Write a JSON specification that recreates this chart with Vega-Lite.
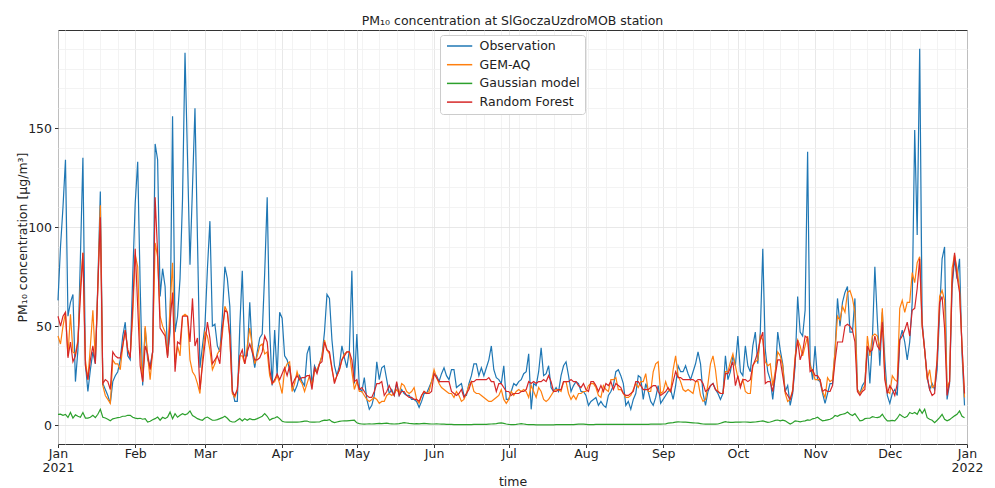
{
"$schema": "https://vega.github.io/schema/vega-lite/v6.json",
"width": 909, "height": 414,
"autosize": {"type": "none"},
"padding": {"left": 58, "top": 30, "right": 28, "bottom": 44},
"background": "white",
"config": {"font": "DejaVu Sans", "view": {"stroke": "#333333", "strokeWidth": 1}},
"title": {"text": "PM₁₀ concentration at SlGoczaUzdroMOB station", "fontSize": 12.5, "fontWeight": "normal", "color": "#222222", "offset": 3},
"data": {"values": [
{"t":"2021-01-01","o":63,"g":45,"n":5.5,"r":55},
{"t":"2021-01-02","o":90,"g":41,"n":5.6,"r":50},
{"t":"2021-01-03","o":110,"g":50,"n":5,"r":55},
{"t":"2021-01-04","o":134,"g":57,"n":5.4,"r":57},
{"t":"2021-01-05","o":55,"g":35,"n":3.9,"r":34},
{"t":"2021-01-06","o":62,"g":56,"n":6.4,"r":42},
{"t":"2021-01-07","o":66,"g":37,"n":3.6,"r":32},
{"t":"2021-01-08","o":22,"g":36,"n":5.2,"r":35},
{"t":"2021-01-09","o":38,"g":43,"n":4.5,"r":42},
{"t":"2021-01-10","o":85,"g":70,"n":4,"r":65},
{"t":"2021-01-11","o":135,"g":87,"n":6.4,"r":87},
{"t":"2021-01-12","o":31,"g":33,"n":3.6,"r":30},
{"t":"2021-01-13","o":17,"g":23,"n":3.6,"r":23},
{"t":"2021-01-14","o":28,"g":40,"n":4,"r":33},
{"t":"2021-01-15","o":37,"g":58,"n":5,"r":40},
{"t":"2021-01-16","o":31,"g":33,"n":3.8,"r":31},
{"t":"2021-01-17","o":72,"g":70,"n":5.5,"r":70},
{"t":"2021-01-18","o":118,"g":111,"n":8,"r":105},
{"t":"2021-01-19","o":21,"g":20,"n":4,"r":21},
{"t":"2021-01-20","o":18,"g":15,"n":3.6,"r":23},
{"t":"2021-01-21","o":15,"g":13,"n":3,"r":22},
{"t":"2021-01-22","o":11,"g":11,"n":2.2,"r":18},
{"t":"2021-01-23","o":22,"g":33,"n":3.2,"r":37},
{"t":"2021-01-24","o":25,"g":31,"n":3.5,"r":35},
{"t":"2021-01-25","o":27,"g":31,"n":3.8,"r":34},
{"t":"2021-01-26","o":33,"g":28,"n":4,"r":34},
{"t":"2021-01-27","o":45,"g":40,"n":4.5,"r":40},
{"t":"2021-01-28","o":52,"g":48,"n":4.5,"r":48},
{"t":"2021-01-29","o":35,"g":38,"n":5,"r":38},
{"t":"2021-01-30","o":33,"g":35,"n":5,"r":34},
{"t":"2021-01-31","o":75,"g":55,"n":4,"r":60},
{"t":"2021-02-01","o":112,"g":86,"n":3.6,"r":89},
{"t":"2021-02-02","o":133,"g":80,"n":3.3,"r":60},
{"t":"2021-02-03","o":70,"g":40,"n":3.5,"r":30},
{"t":"2021-02-04","o":20,"g":22,"n":3,"r":22},
{"t":"2021-02-05","o":49,"g":50,"n":3.3,"r":40},
{"t":"2021-02-06","o":33,"g":35,"n":1.6,"r":36},
{"t":"2021-02-07","o":30,"g":23,"n":2,"r":28},
{"t":"2021-02-08","o":37,"g":37,"n":2.7,"r":37},
{"t":"2021-02-09","o":142,"g":92,"n":3.3,"r":115},
{"t":"2021-02-10","o":134,"g":85,"n":4.1,"r":87},
{"t":"2021-02-11","o":65,"g":55,"n":2.5,"r":49},
{"t":"2021-02-12","o":79,"g":50,"n":4,"r":47},
{"t":"2021-02-13","o":70,"g":47,"n":3.3,"r":45},
{"t":"2021-02-14","o":35,"g":35,"n":4.1,"r":34},
{"t":"2021-02-15","o":47,"g":60,"n":6.6,"r":52},
{"t":"2021-02-16","o":156,"g":82,"n":3.3,"r":67},
{"t":"2021-02-17","o":47,"g":32,"n":5.8,"r":27},
{"t":"2021-02-18","o":55,"g":40,"n":4,"r":42},
{"t":"2021-02-19","o":74,"g":35,"n":5,"r":41},
{"t":"2021-02-20","o":114,"g":55,"n":5.8,"r":55},
{"t":"2021-02-21","o":188,"g":56,"n":5.2,"r":55},
{"t":"2021-02-22","o":135,"g":55,"n":5.8,"r":55},
{"t":"2021-02-23","o":81,"g":33,"n":7.2,"r":42},
{"t":"2021-02-24","o":120,"g":27,"n":4.9,"r":64},
{"t":"2021-02-25","o":160,"g":25,"n":4.1,"r":40},
{"t":"2021-02-26","o":94,"g":21,"n":3.3,"r":44},
{"t":"2021-02-27","o":29,"g":16,"n":2.8,"r":18},
{"t":"2021-02-28","o":40,"g":33,"n":2.5,"r":30},
{"t":"2021-03-01","o":50,"g":47,"n":3.6,"r":41},
{"t":"2021-03-02","o":79,"g":45,"n":4.1,"r":52},
{"t":"2021-03-03","o":103,"g":38,"n":3.3,"r":44},
{"t":"2021-03-04","o":50,"g":28,"n":2.5,"r":31},
{"t":"2021-03-05","o":51,"g":31,"n":2.5,"r":33},
{"t":"2021-03-06","o":40,"g":36,"n":2.8,"r":35},
{"t":"2021-03-07","o":37,"g":38,"n":3.3,"r":31},
{"t":"2021-03-08","o":55,"g":46,"n":3.8,"r":49},
{"t":"2021-03-09","o":80,"g":60,"n":4.5,"r":58},
{"t":"2021-03-10","o":74,"g":57,"n":3.5,"r":57},
{"t":"2021-03-11","o":60,"g":44,"n":2.1,"r":45},
{"t":"2021-03-12","o":18,"g":16,"n":1.6,"r":17},
{"t":"2021-03-13","o":12,"g":14,"n":1.6,"r":15},
{"t":"2021-03-14","o":12,"g":18,"n":2.5,"r":18},
{"t":"2021-03-15","o":50,"g":35,"n":3.4,"r":35},
{"t":"2021-03-16","o":78,"g":35,"n":2.2,"r":38},
{"t":"2021-03-17","o":35,"g":31,"n":3.3,"r":31},
{"t":"2021-03-18","o":35,"g":40,"n":2.5,"r":37},
{"t":"2021-03-19","o":62,"g":49,"n":3.3,"r":41},
{"t":"2021-03-20","o":37,"g":40,"n":2.8,"r":37},
{"t":"2021-03-21","o":29,"g":31,"n":2.8,"r":33},
{"t":"2021-03-22","o":37,"g":35,"n":3.3,"r":33},
{"t":"2021-03-23","o":44,"g":40,"n":3.9,"r":34},
{"t":"2021-03-24","o":46,"g":41,"n":4.5,"r":37},
{"t":"2021-03-25","o":77,"g":36,"n":5.8,"r":45},
{"t":"2021-03-26","o":115,"g":37,"n":4.5,"r":42},
{"t":"2021-03-27","o":48,"g":25,"n":2.5,"r":28},
{"t":"2021-03-28","o":20,"g":21,"n":3.3,"r":21},
{"t":"2021-03-29","o":48,"g":22,"n":3.6,"r":23},
{"t":"2021-03-30","o":25,"g":25,"n":4.3,"r":26},
{"t":"2021-03-31","o":57,"g":21,"n":3.3,"r":23},
{"t":"2021-04-01","o":54,"g":16,"n":2,"r":26},
{"t":"2021-04-02","o":35,"g":28,"n":1.6,"r":29},
{"t":"2021-04-03","o":33,"g":31,"n":1.5,"r":25},
{"t":"2021-04-04","o":28,"g":32,"n":1.5,"r":30},
{"t":"2021-04-05","o":20,"g":17,"n":1.5,"r":20},
{"t":"2021-04-06","o":17,"g":21,"n":1.6,"r":23},
{"t":"2021-04-07","o":20,"g":27,"n":1.5,"r":25},
{"t":"2021-04-08","o":25,"g":23,"n":1.6,"r":23},
{"t":"2021-04-09","o":22,"g":21,"n":1.8,"r":24},
{"t":"2021-04-10","o":20,"g":17,"n":2,"r":24},
{"t":"2021-04-11","o":36,"g":21,"n":2.1,"r":25},
{"t":"2021-04-12","o":40,"g":25,"n":1.6,"r":25},
{"t":"2021-04-13","o":20,"g":20,"n":1.5,"r":18},
{"t":"2021-04-14","o":30,"g":27,"n":1.5,"r":29},
{"t":"2021-04-15","o":27,"g":28,"n":1.6,"r":26},
{"t":"2021-04-16","o":31,"g":31,"n":1.6,"r":31},
{"t":"2021-04-17","o":35,"g":35,"n":2.2,"r":32},
{"t":"2021-04-18","o":47,"g":43,"n":2.5,"r":42},
{"t":"2021-04-19","o":66,"g":38,"n":2.4,"r":38},
{"t":"2021-04-20","o":64,"g":36,"n":2.8,"r":37},
{"t":"2021-04-21","o":43,"g":28,"n":1.8,"r":29},
{"t":"2021-04-22","o":30,"g":22,"n":1.3,"r":21},
{"t":"2021-04-23","o":25,"g":25,"n":1.6,"r":25},
{"t":"2021-04-24","o":30,"g":28,"n":1.9,"r":28},
{"t":"2021-04-25","o":40,"g":33,"n":2.1,"r":33},
{"t":"2021-04-26","o":34,"g":36,"n":2.2,"r":35},
{"t":"2021-04-27","o":29,"g":37,"n":2.2,"r":37},
{"t":"2021-04-28","o":38,"g":37,"n":2.3,"r":37},
{"t":"2021-04-29","o":78,"g":27,"n":2.4,"r":33},
{"t":"2021-04-30","o":21,"g":18,"n":2.5,"r":22},
{"t":"2021-05-01","o":46,"g":22,"n":1.2,"r":23},
{"t":"2021-05-02","o":19,"g":17,"n":0.8,"r":18},
{"t":"2021-05-03","o":17,"g":17,"n":0.6,"r":19},
{"t":"2021-05-04","o":24,"g":15,"n":0.5,"r":17},
{"t":"2021-05-05","o":13,"g":13,"n":0.6,"r":15},
{"t":"2021-05-06","o":8,"g":12,"n":0.7,"r":14},
{"t":"2021-05-07","o":10,"g":13,"n":0.6,"r":14},
{"t":"2021-05-08","o":15,"g":14,"n":0.7,"r":17},
{"t":"2021-05-09","o":32,"g":13,"n":0.8,"r":21},
{"t":"2021-05-10","o":23,"g":11,"n":0.9,"r":21},
{"t":"2021-05-11","o":29,"g":12,"n":0.8,"r":22},
{"t":"2021-05-12","o":30,"g":12,"n":0.9,"r":15},
{"t":"2021-05-13","o":23,"g":15,"n":1,"r":17},
{"t":"2021-05-14","o":16,"g":16,"n":0.8,"r":20},
{"t":"2021-05-15","o":18,"g":15,"n":0.7,"r":17},
{"t":"2021-05-16","o":15,"g":16,"n":0.6,"r":15},
{"t":"2021-05-17","o":21,"g":18,"n":0.7,"r":22},
{"t":"2021-05-18","o":15,"g":16,"n":0.8,"r":15},
{"t":"2021-05-19","o":18,"g":21,"n":1,"r":17},
{"t":"2021-05-20","o":16,"g":20,"n":1.3,"r":17},
{"t":"2021-05-21","o":15,"g":17,"n":1.1,"r":15},
{"t":"2021-05-22","o":15,"g":16,"n":0.9,"r":14},
{"t":"2021-05-23","o":13,"g":17,"n":0.8,"r":14},
{"t":"2021-05-24","o":13,"g":19,"n":0.7,"r":13},
{"t":"2021-05-25","o":12,"g":13,"n":0.8,"r":13},
{"t":"2021-05-26","o":9,"g":11,"n":0.7,"r":12},
{"t":"2021-05-27","o":12,"g":15,"n":0.8,"r":15},
{"t":"2021-05-28","o":16,"g":17,"n":0.9,"r":17},
{"t":"2021-05-29","o":16,"g":16,"n":0.8,"r":16},
{"t":"2021-05-30","o":19,"g":17,"n":0.7,"r":16},
{"t":"2021-05-31","o":22,"g":22,"n":0.6,"r":17},
{"t":"2021-06-01","o":26,"g":28,"n":0.6,"r":26},
{"t":"2021-06-02","o":25,"g":24,"n":0.7,"r":24},
{"t":"2021-06-03","o":22,"g":21,"n":0.6,"r":22},
{"t":"2021-06-04","o":26,"g":19,"n":0.5,"r":22},
{"t":"2021-06-05","o":29,"g":18,"n":0.5,"r":22},
{"t":"2021-06-06","o":25,"g":17,"n":0.4,"r":22},
{"t":"2021-06-07","o":23,"g":16,"n":0.4,"r":22},
{"t":"2021-06-08","o":28,"g":16,"n":0.4,"r":17},
{"t":"2021-06-09","o":28,"g":14,"n":0.3,"r":16},
{"t":"2021-06-10","o":19,"g":17,"n":0.3,"r":15},
{"t":"2021-06-11","o":20,"g":15,"n":0.3,"r":16},
{"t":"2021-06-12","o":21,"g":12,"n":0.3,"r":18},
{"t":"2021-06-13","o":15,"g":13,"n":0.3,"r":14},
{"t":"2021-06-14","o":15,"g":16,"n":0.3,"r":16},
{"t":"2021-06-15","o":21,"g":20,"n":0.3,"r":18},
{"t":"2021-06-16","o":25,"g":22,"n":0.3,"r":22},
{"t":"2021-06-17","o":31,"g":17,"n":0.4,"r":22},
{"t":"2021-06-18","o":31,"g":16,"n":0.4,"r":23},
{"t":"2021-06-19","o":25,"g":16,"n":0.4,"r":23},
{"t":"2021-06-20","o":29,"g":15,"n":0.4,"r":23},
{"t":"2021-06-21","o":25,"g":14,"n":0.4,"r":23},
{"t":"2021-06-22","o":29,"g":13,"n":0.4,"r":23},
{"t":"2021-06-23","o":33,"g":12,"n":0.5,"r":24},
{"t":"2021-06-24","o":40,"g":12,"n":0.6,"r":22},
{"t":"2021-06-25","o":28,"g":13,"n":0.7,"r":22},
{"t":"2021-06-26","o":24,"g":14,"n":0.8,"r":17},
{"t":"2021-06-27","o":23,"g":15,"n":1,"r":21},
{"t":"2021-06-28","o":21,"g":18,"n":1.2,"r":21},
{"t":"2021-06-29","o":30,"g":13,"n":0.9,"r":19},
{"t":"2021-06-30","o":13,"g":11,"n":0.6,"r":17},
{"t":"2021-07-01","o":13,"g":13,"n":0.4,"r":17},
{"t":"2021-07-02","o":17,"g":17,"n":0.3,"r":15},
{"t":"2021-07-03","o":21,"g":15,"n":0.3,"r":16},
{"t":"2021-07-04","o":20,"g":17,"n":0.4,"r":16},
{"t":"2021-07-05","o":22,"g":18,"n":0.6,"r":16},
{"t":"2021-07-06","o":23,"g":17,"n":0.8,"r":17},
{"t":"2021-07-07","o":26,"g":18,"n":0.6,"r":17},
{"t":"2021-07-08","o":27,"g":17,"n":0.4,"r":18},
{"t":"2021-07-09","o":36,"g":14,"n":0.3,"r":22},
{"t":"2021-07-10","o":8,"g":20,"n":0.3,"r":21},
{"t":"2021-07-11","o":21,"g":17,"n":0.3,"r":22},
{"t":"2021-07-12","o":20,"g":14,"n":0.2,"r":21},
{"t":"2021-07-13","o":27,"g":19,"n":0.2,"r":22},
{"t":"2021-07-14","o":39,"g":17,"n":0.2,"r":22},
{"t":"2021-07-15","o":25,"g":13,"n":0.2,"r":23},
{"t":"2021-07-16","o":26,"g":12,"n":0.2,"r":22},
{"t":"2021-07-17","o":30,"g":13,"n":0.2,"r":25},
{"t":"2021-07-18","o":19,"g":15,"n":0.2,"r":22},
{"t":"2021-07-19","o":17,"g":17,"n":0.2,"r":17},
{"t":"2021-07-20","o":19,"g":18,"n":0.3,"r":17},
{"t":"2021-07-21","o":17,"g":18,"n":0.3,"r":18},
{"t":"2021-07-22","o":25,"g":17,"n":0.3,"r":18},
{"t":"2021-07-23","o":30,"g":22,"n":0.3,"r":22},
{"t":"2021-07-24","o":32,"g":22,"n":0.3,"r":22},
{"t":"2021-07-25","o":25,"g":16,"n":0.3,"r":22},
{"t":"2021-07-26","o":17,"g":13,"n":0.3,"r":23},
{"t":"2021-07-27","o":20,"g":15,"n":0.3,"r":22},
{"t":"2021-07-28","o":22,"g":13,"n":0.4,"r":22},
{"t":"2021-07-29","o":21,"g":16,"n":0.5,"r":20},
{"t":"2021-07-30","o":17,"g":16,"n":0.6,"r":19},
{"t":"2021-07-31","o":17,"g":17,"n":0.5,"r":21},
{"t":"2021-08-01","o":15,"g":17,"n":0.4,"r":18},
{"t":"2021-08-02","o":10,"g":20,"n":0.3,"r":17},
{"t":"2021-08-03","o":12,"g":21,"n":0.3,"r":22},
{"t":"2021-08-04","o":13,"g":21,"n":0.3,"r":22},
{"t":"2021-08-05","o":14,"g":19,"n":0.4,"r":20},
{"t":"2021-08-06","o":10,"g":15,"n":0.4,"r":17},
{"t":"2021-08-07","o":12,"g":14,"n":0.4,"r":20},
{"t":"2021-08-08","o":10,"g":20,"n":0.4,"r":17},
{"t":"2021-08-09","o":9,"g":18,"n":0.4,"r":21},
{"t":"2021-08-10","o":15,"g":17,"n":0.4,"r":20},
{"t":"2021-08-11","o":17,"g":23,"n":0.4,"r":22},
{"t":"2021-08-12","o":20,"g":23,"n":0.4,"r":18},
{"t":"2021-08-13","o":27,"g":24,"n":0.4,"r":21},
{"t":"2021-08-14","o":28,"g":18,"n":0.4,"r":20},
{"t":"2021-08-15","o":25,"g":18,"n":0.4,"r":19},
{"t":"2021-08-16","o":21,"g":16,"n":0.4,"r":16},
{"t":"2021-08-17","o":10,"g":14,"n":0.4,"r":15},
{"t":"2021-08-18","o":12,"g":14,"n":0.4,"r":15},
{"t":"2021-08-19","o":8,"g":15,"n":0.4,"r":16},
{"t":"2021-08-20","o":13,"g":18,"n":0.4,"r":17},
{"t":"2021-08-21","o":16,"g":21,"n":0.4,"r":22},
{"t":"2021-08-22","o":25,"g":19,"n":0.4,"r":22},
{"t":"2021-08-23","o":24,"g":22,"n":0.4,"r":20},
{"t":"2021-08-24","o":13,"g":22,"n":0.4,"r":18},
{"t":"2021-08-25","o":21,"g":26,"n":0.4,"r":18},
{"t":"2021-08-26","o":17,"g":17,"n":0.4,"r":18},
{"t":"2021-08-27","o":12,"g":17,"n":0.5,"r":19},
{"t":"2021-08-28","o":10,"g":27,"n":0.5,"r":20},
{"t":"2021-08-29","o":14,"g":31,"n":0.5,"r":20},
{"t":"2021-08-30","o":20,"g":32,"n":0.5,"r":17},
{"t":"2021-08-31","o":11,"g":16,"n":0.5,"r":15},
{"t":"2021-09-01","o":13,"g":17,"n":0.6,"r":16},
{"t":"2021-09-02","o":15,"g":22,"n":0.7,"r":17},
{"t":"2021-09-03","o":17,"g":18,"n":1,"r":19},
{"t":"2021-09-04","o":18,"g":17,"n":1.2,"r":17},
{"t":"2021-09-05","o":13,"g":28,"n":1.3,"r":22},
{"t":"2021-09-06","o":20,"g":35,"n":1.5,"r":27},
{"t":"2021-09-07","o":30,"g":25,"n":1.7,"r":24},
{"t":"2021-09-08","o":27,"g":22,"n":1.6,"r":24},
{"t":"2021-09-09","o":27,"g":18,"n":1.5,"r":23},
{"t":"2021-09-10","o":30,"g":17,"n":1.5,"r":23},
{"t":"2021-09-11","o":26,"g":18,"n":1.4,"r":23},
{"t":"2021-09-12","o":23,"g":17,"n":1.3,"r":23},
{"t":"2021-09-13","o":27,"g":16,"n":1.2,"r":23},
{"t":"2021-09-14","o":31,"g":22,"n":1.1,"r":22},
{"t":"2021-09-15","o":37,"g":22,"n":1,"r":23},
{"t":"2021-09-16","o":31,"g":15,"n":0.8,"r":23},
{"t":"2021-09-17","o":16,"g":12,"n":0.6,"r":21},
{"t":"2021-09-18","o":10,"g":13,"n":0.5,"r":17},
{"t":"2021-09-19","o":17,"g":21,"n":0.5,"r":18},
{"t":"2021-09-20","o":20,"g":31,"n":0.5,"r":20},
{"t":"2021-09-21","o":21,"g":35,"n":0.5,"r":21},
{"t":"2021-09-22","o":18,"g":28,"n":0.5,"r":18},
{"t":"2021-09-23","o":16,"g":17,"n":0.6,"r":17},
{"t":"2021-09-24","o":13,"g":16,"n":1,"r":16},
{"t":"2021-09-25","o":16,"g":16,"n":1.4,"r":16},
{"t":"2021-09-26","o":35,"g":27,"n":1.8,"r":26},
{"t":"2021-09-27","o":23,"g":27,"n":1.5,"r":26},
{"t":"2021-09-28","o":27,"g":32,"n":1.4,"r":29},
{"t":"2021-09-29","o":35,"g":36,"n":1.4,"r":32},
{"t":"2021-09-30","o":30,"g":30,"n":1.5,"r":20},
{"t":"2021-10-01","o":45,"g":24,"n":1.5,"r":25},
{"t":"2021-10-02","o":27,"g":20,"n":1.5,"r":19},
{"t":"2021-10-03","o":25,"g":23,"n":1.6,"r":23},
{"t":"2021-10-04","o":40,"g":17,"n":1.6,"r":23},
{"t":"2021-10-05","o":30,"g":16,"n":1.5,"r":22},
{"t":"2021-10-06","o":27,"g":16,"n":1.4,"r":23},
{"t":"2021-10-07","o":40,"g":30,"n":1.5,"r":30},
{"t":"2021-10-08","o":47,"g":32,"n":1.6,"r":33},
{"t":"2021-10-09","o":31,"g":33,"n":1.8,"r":37},
{"t":"2021-10-10","o":47,"g":45,"n":2,"r":43},
{"t":"2021-10-11","o":89,"g":43,"n":2.2,"r":47},
{"t":"2021-10-12","o":38,"g":32,"n":1.8,"r":21},
{"t":"2021-10-13","o":27,"g":30,"n":1.4,"r":22},
{"t":"2021-10-14","o":23,"g":31,"n":1.6,"r":22},
{"t":"2021-10-15","o":13,"g":20,"n":2,"r":17},
{"t":"2021-10-16","o":25,"g":27,"n":2.4,"r":25},
{"t":"2021-10-17","o":47,"g":37,"n":2.6,"r":33},
{"t":"2021-10-18","o":38,"g":35,"n":2.2,"r":33},
{"t":"2021-10-19","o":31,"g":30,"n":2.5,"r":25},
{"t":"2021-10-20","o":17,"g":16,"n":2.2,"r":17},
{"t":"2021-10-21","o":20,"g":12,"n":1.4,"r":15},
{"t":"2021-10-22","o":10,"g":13,"n":0.6,"r":13},
{"t":"2021-10-23","o":16,"g":18,"n":1.2,"r":17},
{"t":"2021-10-24","o":30,"g":35,"n":2.2,"r":33},
{"t":"2021-10-25","o":65,"g":43,"n":2,"r":43},
{"t":"2021-10-26","o":47,"g":40,"n":1.7,"r":33},
{"t":"2021-10-27","o":45,"g":35,"n":2,"r":37},
{"t":"2021-10-28","o":58,"g":40,"n":2.2,"r":45},
{"t":"2021-10-29","o":138,"g":45,"n":2.7,"r":44},
{"t":"2021-10-30","o":32,"g":30,"n":2.5,"r":27},
{"t":"2021-10-31","o":23,"g":27,"n":3.2,"r":28},
{"t":"2021-11-01","o":40,"g":23,"n":3.5,"r":25},
{"t":"2021-11-02","o":23,"g":23,"n":4,"r":25},
{"t":"2021-11-03","o":22,"g":23,"n":3,"r":23},
{"t":"2021-11-04","o":16,"g":17,"n":2.2,"r":17},
{"t":"2021-11-05","o":11,"g":14,"n":2.4,"r":18},
{"t":"2021-11-06","o":16,"g":24,"n":2.7,"r":17},
{"t":"2021-11-07","o":21,"g":22,"n":3,"r":17},
{"t":"2021-11-08","o":21,"g":23,"n":3.6,"r":20},
{"t":"2021-11-09","o":37,"g":37,"n":4.9,"r":32},
{"t":"2021-11-10","o":64,"g":55,"n":4.5,"r":42},
{"t":"2021-11-11","o":50,"g":53,"n":5.2,"r":42},
{"t":"2021-11-12","o":62,"g":60,"n":5.5,"r":42},
{"t":"2021-11-13","o":67,"g":57,"n":5.8,"r":50},
{"t":"2021-11-14","o":70,"g":67,"n":6.6,"r":51},
{"t":"2021-11-15","o":47,"g":68,"n":5.5,"r":50},
{"t":"2021-11-16","o":47,"g":64,"n":4.9,"r":48},
{"t":"2021-11-17","o":64,"g":57,"n":5.8,"r":42},
{"t":"2021-11-18","o":18,"g":18,"n":4,"r":17},
{"t":"2021-11-19","o":16,"g":16,"n":2.2,"r":15},
{"t":"2021-11-20","o":20,"g":18,"n":2.4,"r":17},
{"t":"2021-11-21","o":22,"g":20,"n":3.3,"r":18},
{"t":"2021-11-22","o":40,"g":45,"n":3.5,"r":40},
{"t":"2021-11-23","o":21,"g":35,"n":3.5,"r":37},
{"t":"2021-11-24","o":43,"g":45,"n":4.3,"r":38},
{"t":"2021-11-25","o":80,"g":46,"n":4,"r":45},
{"t":"2021-11-26","o":53,"g":45,"n":3.8,"r":40},
{"t":"2021-11-27","o":30,"g":38,"n":4.2,"r":38},
{"t":"2021-11-28","o":57,"g":59,"n":5.5,"r":52},
{"t":"2021-11-29","o":33,"g":25,"n":3.5,"r":23},
{"t":"2021-11-30","o":15,"g":17,"n":2.2,"r":16},
{"t":"2021-12-01","o":11,"g":16,"n":2.2,"r":20},
{"t":"2021-12-02","o":16,"g":25,"n":2.4,"r":18},
{"t":"2021-12-03","o":18,"g":23,"n":2.2,"r":15},
{"t":"2021-12-04","o":15,"g":22,"n":3.5,"r":21},
{"t":"2021-12-05","o":43,"g":59,"n":5.5,"r":43},
{"t":"2021-12-06","o":48,"g":63,"n":4.5,"r":45},
{"t":"2021-12-07","o":42,"g":57,"n":3.8,"r":48},
{"t":"2021-12-08","o":33,"g":62,"n":4.5,"r":52},
{"t":"2021-12-09","o":42,"g":62,"n":6.4,"r":45},
{"t":"2021-12-10","o":62,"g":77,"n":5.8,"r":58},
{"t":"2021-12-11","o":149,"g":72,"n":6.4,"r":59},
{"t":"2021-12-12","o":96,"g":82,"n":5.5,"r":69},
{"t":"2021-12-13","o":190,"g":85,"n":8.1,"r":84},
{"t":"2021-12-14","o":52,"g":50,"n":6,"r":50},
{"t":"2021-12-15","o":38,"g":38,"n":8.1,"r":38},
{"t":"2021-12-16","o":24,"g":23,"n":3.8,"r":25},
{"t":"2021-12-17","o":18,"g":28,"n":3,"r":18},
{"t":"2021-12-18","o":21,"g":19,"n":2.5,"r":15},
{"t":"2021-12-19","o":18,"g":20,"n":1.3,"r":16},
{"t":"2021-12-20","o":28,"g":33,"n":2.5,"r":33},
{"t":"2021-12-21","o":57,"g":65,"n":3.8,"r":62},
{"t":"2021-12-22","o":84,"g":68,"n":5.5,"r":65},
{"t":"2021-12-23","o":90,"g":63,"n":3,"r":49},
{"t":"2021-12-24","o":13,"g":19,"n":2.2,"r":15},
{"t":"2021-12-25","o":21,"g":22,"n":2.8,"r":22},
{"t":"2021-12-26","o":69,"g":79,"n":3.8,"r":72},
{"t":"2021-12-27","o":84,"g":86,"n":4.7,"r":87},
{"t":"2021-12-28","o":74,"g":79,"n":5.5,"r":75},
{"t":"2021-12-29","o":84,"g":69,"n":7.2,"r":67},
{"t":"2021-12-30","o":36,"g":40,"n":4.5,"r":40},
{"t":"2021-12-31","o":10,"g":14,"n":3.8,"r":16}
]},
"transform": [{"fold": ["o", "g", "n", "r"], "as": ["series", "value"]}],
"mark": {"type": "line", "strokeWidth": 1.2},
"encoding": {
"x": {"field": "t", "type": "temporal",
 "scale": {"type": "utc", "domain": [{"year":2021,"month":1,"date":1,"utc":true},{"year":2022,"month":1,"date":1,"utc":true}]},
 "axis": {"title": "time",
  "values": [
   {"year":2021,"month":1,"date":1,"utc":true},{"year":2021,"month":1,"date":4,"utc":true},{"year":2021,"month":1,"date":11,"utc":true},{"year":2021,"month":1,"date":18,"utc":true},{"year":2021,"month":1,"date":25,"utc":true},
   {"year":2021,"month":2,"date":1,"utc":true},{"year":2021,"month":2,"date":8,"utc":true},{"year":2021,"month":2,"date":15,"utc":true},{"year":2021,"month":2,"date":22,"utc":true},
   {"year":2021,"month":3,"date":1,"utc":true},{"year":2021,"month":3,"date":8,"utc":true},{"year":2021,"month":3,"date":15,"utc":true},{"year":2021,"month":3,"date":22,"utc":true},{"year":2021,"month":3,"date":29,"utc":true},
   {"year":2021,"month":4,"date":1,"utc":true},{"year":2021,"month":4,"date":5,"utc":true},{"year":2021,"month":4,"date":12,"utc":true},{"year":2021,"month":4,"date":19,"utc":true},{"year":2021,"month":4,"date":26,"utc":true},
   {"year":2021,"month":5,"date":1,"utc":true},{"year":2021,"month":5,"date":3,"utc":true},{"year":2021,"month":5,"date":10,"utc":true},{"year":2021,"month":5,"date":17,"utc":true},{"year":2021,"month":5,"date":24,"utc":true},{"year":2021,"month":5,"date":31,"utc":true},
   {"year":2021,"month":6,"date":1,"utc":true},{"year":2021,"month":6,"date":7,"utc":true},{"year":2021,"month":6,"date":14,"utc":true},{"year":2021,"month":6,"date":21,"utc":true},{"year":2021,"month":6,"date":28,"utc":true},
   {"year":2021,"month":7,"date":1,"utc":true},{"year":2021,"month":7,"date":5,"utc":true},{"year":2021,"month":7,"date":12,"utc":true},{"year":2021,"month":7,"date":19,"utc":true},{"year":2021,"month":7,"date":26,"utc":true},
   {"year":2021,"month":8,"date":1,"utc":true},{"year":2021,"month":8,"date":2,"utc":true},{"year":2021,"month":8,"date":9,"utc":true},{"year":2021,"month":8,"date":16,"utc":true},{"year":2021,"month":8,"date":23,"utc":true},{"year":2021,"month":8,"date":30,"utc":true},
   {"year":2021,"month":9,"date":1,"utc":true},{"year":2021,"month":9,"date":6,"utc":true},{"year":2021,"month":9,"date":13,"utc":true},{"year":2021,"month":9,"date":20,"utc":true},{"year":2021,"month":9,"date":27,"utc":true},
   {"year":2021,"month":10,"date":1,"utc":true},{"year":2021,"month":10,"date":4,"utc":true},{"year":2021,"month":10,"date":11,"utc":true},{"year":2021,"month":10,"date":18,"utc":true},{"year":2021,"month":10,"date":25,"utc":true},
   {"year":2021,"month":11,"date":1,"utc":true},{"year":2021,"month":11,"date":8,"utc":true},{"year":2021,"month":11,"date":15,"utc":true},{"year":2021,"month":11,"date":22,"utc":true},{"year":2021,"month":11,"date":29,"utc":true},
   {"year":2021,"month":12,"date":1,"utc":true},{"year":2021,"month":12,"date":6,"utc":true},{"year":2021,"month":12,"date":13,"utc":true},{"year":2021,"month":12,"date":20,"utc":true},{"year":2021,"month":12,"date":27,"utc":true},
   {"year":2022,"month":1,"date":1,"utc":true}
  ],
  "labelExpr": "utcdate(datum.value) === 1 ? (utcmonth(datum.value) === 0 ? [utcFormat(datum.value, '%b'), utcFormat(datum.value, '%Y')] : utcFormat(datum.value, '%b')) : ''",
  "labelOverlap": false, "labelFlush": false, "labelFontSize": 12.5, "labelColor": "#222222", "labelPadding": 0, "labelLineHeight": 14,
  "tickColor": "#333333",
  "tickSize": {"condition": {"test": "utcdate(datum.value) === 1", "value": 3.5}, "value": 0},
  "grid": true,
  "gridColor": {"condition": {"test": "utcdate(datum.value) === 1", "value": "#e2e2e2"}, "value": "#f0f0f0"},
  "gridWidth": 0.8,
  "domain": false,
  "titleFontSize": 12.5, "titleFontWeight": "normal", "titleColor": "#222222", "titlePadding": 1}},
"y": {"field": "value", "type": "quantitative",
 "scale": {"domain": [-9.5, 199.5], "nice": false, "zero": false},
 "axis": {"title": "PM₁₀ concentration [μg/m³]",
  "values": [0,10,20,30,40,50,60,70,80,90,100,110,120,130,140,150,160,170,180,190],
  "labelExpr": "datum.value % 50 === 0 ? datum.label : ''",
  "labelFontSize": 12.5, "labelColor": "#222222", "labelPadding": 3,
  "tickColor": "#333333",
  "tickSize": {"condition": {"test": "datum.value % 50 === 0", "value": 3.5}, "value": 0},
  "grid": true,
  "gridColor": {"condition": {"test": "datum.value % 50 === 0", "value": "#e2e2e2"}, "value": "#f0f0f0"},
  "gridWidth": 0.8,
  "domain": false,
  "titleFontSize": 12.5, "titleFontWeight": "normal", "titleColor": "#222222", "titlePadding": -2}},
"color": {"field": "series", "type": "nominal",
 "scale": {"domain": ["o", "g", "n", "r"], "range": ["#1f77b4", "#ff7f0e", "#2ca02c", "#d62728"]},
 "legend": {"title": null, "orient": "none", "legendX": 382, "legendY": 5,
  "fillColor": "white", "strokeColor": "#cccccc", "cornerRadius": 3, "padding": 4.5,
  "symbolType": "M-2.2,0H2.2", "symbolSize": 132, "symbolStrokeWidth": 1.5, "symbolOffset": 8.6,
  "labelFontSize": 12.5, "labelColor": "#222222", "labelOffset": 13.5, "rowPadding": 5.7,
  "labelExpr": "({'o': 'Observation', 'g': 'GEM-AQ', 'n': 'Gaussian model', 'r': 'Random Forest'})[datum.label]"}}
}
}
